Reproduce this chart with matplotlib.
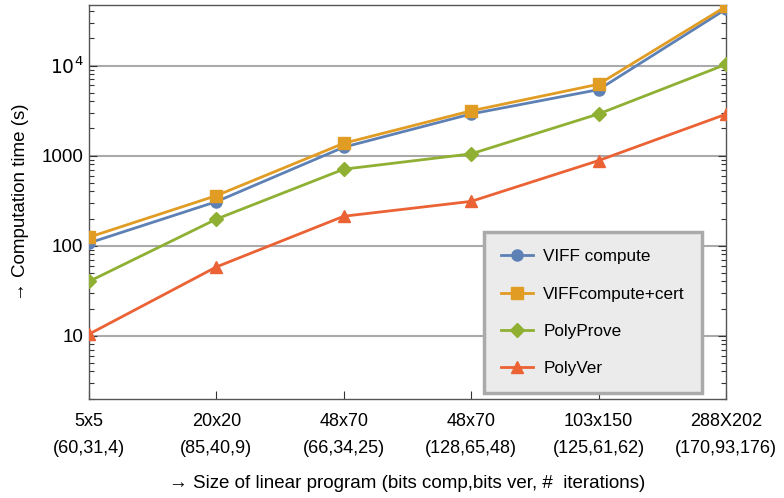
import numpy as np
import matplotlib
matplotlib.use("Agg")
import matplotlib.pyplot as plt
from matplotlib.ticker import FixedLocator, LogLocator, NullFormatter

plt.rcParams["font.family"] = ["Liberation Sans", "DejaVu Sans"]

sizes = ["5x5", "20x20", "48x70", "48x70", "103x150", "288X202"]
params = ["(60,31,4)", "(85,40,9)", "(66,34,25)", "(128,65,48)", "(125,61,62)", "(170,93,176)"]

viff_compute = [107, 308, 1240, 2900, 5400, 42300]
viff_cert = [124, 359, 1370, 3140, 6200, 45300]
polyprove = [40, 197, 706, 1045, 2900, 10300]
polyver = [10.4, 58, 212, 310, 880, 2880]

series = [
    ("VIFF compute", viff_compute, "#5E81B5", "o"),
    ("VIFFcompute+cert", viff_cert, "#E19C24", "s"),
    ("PolyProve", polyprove, "#8FB032", "D"),
    ("PolyVer", polyver, "#EB6235", "^"),
]

fig = plt.figure(figsize=(7.84, 4.98), dpi=100)
ax = fig.add_axes([89 / 784, 1 - 399 / 498, (726 - 89) / 784, (399 - 5) / 498])

x = np.arange(len(sizes))
for name, vals, col, mk in series:
    ms = 8 if mk != "D" else 7
    ax.plot(x, vals, color=col, lw=2.0, marker=mk, ms=ms, label=name, zorder=3)

ax.set_yscale("log")
ax.set_xlim(0, len(sizes) - 1)
ax.set_ylim(1.98, 47000)

# decade gridlines only
for v in [10, 100, 1000, 10000]:
    ax.axhline(v, color="#aaaaaa", lw=1.5, zorder=1)

ax.yaxis.set_major_locator(FixedLocator([10, 100, 1000, 10000]))
ax.set_yticklabels(["10", "100", "1000", r"$10^4$"], fontsize=13.5)
ax.yaxis.set_minor_locator(LogLocator(base=10, subs=np.arange(2, 10)))
ax.yaxis.set_minor_formatter(NullFormatter())
ax.tick_params(axis="y", which="major", direction="in", length=6, width=0.8,
               right=True, pad=4, color="#333333")
ax.tick_params(axis="y", which="minor", direction="in", length=3.5, width=0.8,
               right=True, color="#333333")

ax.set_xticks(x)
ax.set_xticklabels([f"{s}\n{p}" for s, p in zip(sizes, params)], fontsize=13,
                   linespacing=1.75)
ax.tick_params(axis="x", direction="in", length=6, width=0.8, pad=10, color="#333333")

for sp in ax.spines.values():
    sp.set_color("#555555")
    sp.set_linewidth(1.0)

ax.set_ylabel("→ Computation time (s)", fontsize=13.5, labelpad=9)
ax.set_xlabel("→ Size of linear program (bits comp,bits ver, #  iterations)",
              fontsize=13.5, labelpad=13)

leg = ax.legend(loc="lower right", bbox_to_anchor=(702 / 784, 1 - 393 / 498),
                bbox_transform=fig.transFigure, fontsize=12.3, labelspacing=1.3,
                borderpad=1.0, handlelength=1.9, handletextpad=0.6,
                borderaxespad=0, fancybox=False, framealpha=1)
leg.get_frame().set_facecolor("#EBEBEB")
leg.get_frame().set_edgecolor("#AAAAAA")
leg.get_frame().set_linewidth(2.5)
leg.set_zorder(5)

fig.savefig("out.png", dpi=100)
